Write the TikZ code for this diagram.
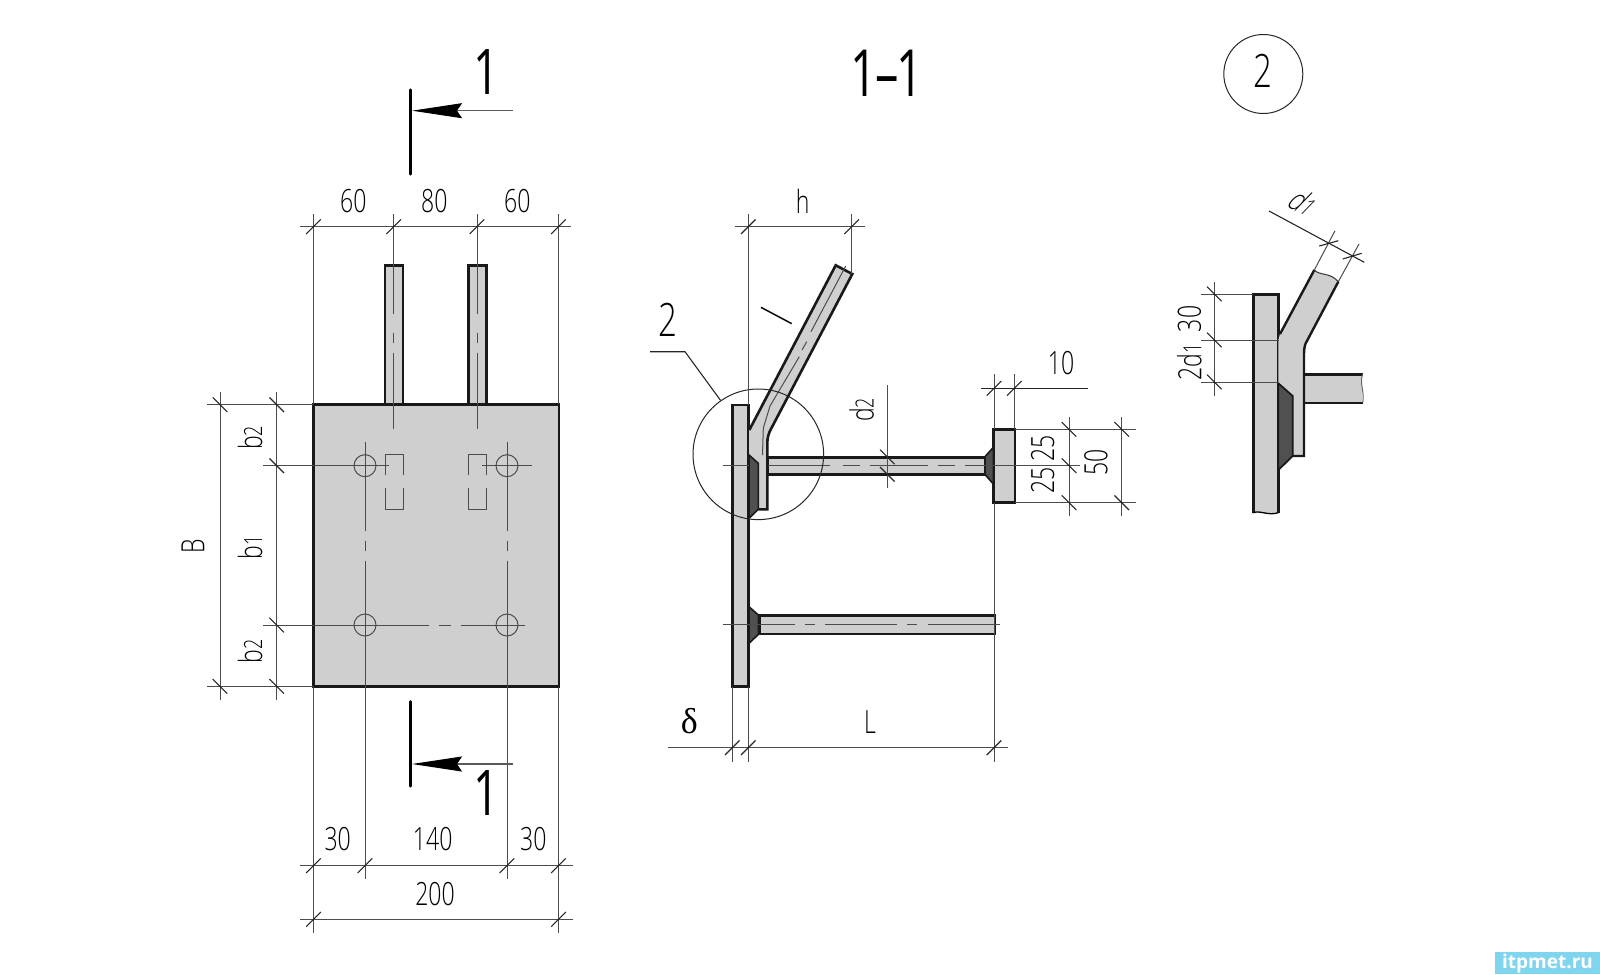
\documentclass[tikz,border=0pt]{standalone}
\usepackage{fontspec}
\setmainfont[FakeStretch=0.72]{Open Sans Light}
\newfontfamily\slantfont[FakeStretch=0.72,FakeSlant=0.25]{Open Sans Light}
\newfontfamily\bigfont[FakeStretch=0.72]{Open Sans}
\newfontfamily\greekfont{Liberation Serif}
\newfontfamily\markfont{Open Sans}
\usepackage{tikz}
\usetikzlibrary{
   arrows.meta,
   calc
}
\definecolor{steelgray}{RGB}{207,207,207}
\definecolor{weldgray}{RGB}{80,80,80}
\definecolor{markblue}{RGB}{127,212,238}
\newcommand{\lowidx}[1]{{\fontsize{25}{25}\selectfont #1}}

\begin{document}
\begin{tikzpicture}[
  x=1pt, y=-1pt,
  every node/.style={inner sep=0pt},
  body/.style={fill=steelgray, draw=black!90, line width=2.6pt, line join=miter},
  weld/.style={fill=weldgray, draw=black!90, line width=1.6pt},
  edge/.style={draw=black!90, line width=2.6pt},
  thinline/.style={draw=black!70, line width=1pt},
  axis/.style={draw=black!70, line width=1pt},
  dimline/.style={draw=black!70, line width=1.2pt},
  slash/.style={draw=black!85, line width=1.1pt},
  dimtext/.style={font=\fontsize{32}{32}\selectfont},
  labeltext/.style={font=\fontsize{46}{46}\selectfont},
  bigtext/.style={font=\bigfont\fontsize{63}{63}\selectfont},
  sectline/.style={draw=black, line width=3.4pt, line cap=round},
  sectarrow/.style={draw=black!65, line width=1.1pt, {Stealth[length=50pt, width=15pt, inset=5pt, black]}-},
]
\useasboundingbox (0,0) rectangle (1600,974);

% anchor bars, plan
\filldraw[body] (385,404.7) -- (385,265.7) -- (403,265.7) -- (403,404.7);
\filldraw[body] (468.7,404.7) -- (468.7,265.7) -- (486.7,265.7) -- (486.7,404.7);

% base plate, plan
\filldraw[body] (313.5,404.7) rectangle (559,686.5);

% holes
\draw[thinline] (365,465.7) circle (11);
\draw[thinline] (507,465.7) circle (11);
\draw[thinline] (365,625) circle (11);
\draw[thinline] (507,625) circle (11);

% hidden bars
\draw[thinline] (385,475) -- (385,454.3) -- (403,454.3) -- (403,475);
\draw[thinline] (385,488) -- (385,509) -- (403,509) -- (403,488);
\draw[thinline] (468.7,475) -- (468.7,454.3) -- (486.7,454.3) -- (486.7,475);
\draw[thinline] (468.7,488) -- (468.7,509) -- (486.7,509) -- (486.7,488);

% axes, plan
\draw[axis] (393.7,214) -- (393.7,314) (393.7,332.7) -- (393.7,343.3) (393.7,352.7) -- (393.7,429);
\draw[axis] (477,214) -- (477,314) (477,332.7) -- (477,343.3) (477,352.7) -- (477,429);
\draw[axis] (365,441.7) -- (365,530.7) (365,540.7) -- (365,551) (365,561) -- (365,879);
\draw[axis] (507,441.7) -- (507,530.7) (507,540.7) -- (507,551) (507,561) -- (507,879);
\draw[axis] (263,465.7) -- (389,465.7) (482,465.7) -- (531.7,465.7);
\draw[axis] (263,625) -- (429.3,625) (439.3,625) -- (450.7,625) (460.7,625) -- (525,625);

% dimensions, plan
\draw[thinline] (313.5,214) -- (313.5,404) (558.5,214) -- (558.5,404);
\draw[thinline] (313.5,687) -- (313.5,933) (558.5,687) -- (558.5,933);
\draw[thinline] (206.7,404.7) -- (313,404.7) (206.7,686.3) -- (313,686.3);
\draw[thinline] (220,391.7) -- (220,700) (276.7,391.7) -- (276.7,700);
\draw[dimline] (300,226.7) -- (571,226.7);
\draw[dimline] (300,865.7) -- (572.7,865.7);
\draw[dimline] (300,919.3) -- (572.7,919.3);
\foreach \px/\py in {313.5/226.7, 393.7/226.7, 477/226.7, 558.5/226.7,
  313.5/865.7, 365/865.7, 507/865.7, 558.5/865.7, 313.5/919.3, 558.5/919.3}
  \draw[slash] (\px-7.3,\py+7.3) -- (\px+7.3,\py-7.3);
\foreach \px/\py in {220/404.7, 276.7/404.7, 276.7/465.7, 276.7/625, 220/686.3, 276.7/686.3}
  \draw[slash] (\px-7.3,\py-7.3) -- (\px+7.3,\py+7.3);

\node[dimtext] (topa) at (353.3,201) {60};
\node[dimtext] (topb) at (434.3,201) {80};
\node[dimtext] (topc) at (517.3,201) {60};
\node[dimtext] (lowa) at (337.7,839.3) {30};
\node[dimtext] (lowb) at (432.7,839.3) {140};
\node[dimtext] (lowc) at (533.3,839.3) {30};
\node[dimtext] (lowd) at (435,894) {200};
\node[dimtext, rotate=90] (sizeb) at (193,546.7) {B};
\node[dimtext, rotate=90] (sizea) at (250,438) {b\lowidx{2}};
\node[dimtext, rotate=90] (sizec) at (250,547) {b\lowidx{1}};
\node[dimtext, rotate=90] (sized) at (250,651) {b\lowidx{2}};

% section marks
\draw[sectline] (410.7,90) -- (410.7,174);
\coordinate (uptip) at (412,110.7);
\coordinate (upend) at (512.7,110.7);
\draw[sectarrow] (uptip) -- (upend);
\node[bigtext] (upnum) at (486.7,72) {1};
\draw[sectline] (410.7,701.7) -- (410.7,786);
\coordinate (lowtip) at (412,764);
\coordinate (lowend) at (512.7,764);
\draw[sectarrow] (lowtip) -- (lowend);
\node[bigtext] (lownum) at (486.7,793) {1};

% section 1-1: plate, bars, welds
\filldraw[body] (732.3,405) rectangle (748.7,686.7);
\filldraw[body] (767.3,457.3) rectangle (985,474.3);
\filldraw[body] (759.3,615.7) rectangle (995,634);
\filldraw[body] (993.7,429.3) rectangle (1015,502.7);
\filldraw[fill=steelgray, draw=none] (835.7,265.3) -- (852.3,274) -- (771.5,428)
  .. controls (768.5,433) and (767.3,438) .. (767.3,443) -- (767.3,509.3) -- (758.3,509.3)
  -- (758.3,463.3) -- (749,455) -- (749,430) -- cycle;
\draw[edge, line join=miter] (749.3,430) -- (835.7,265.3) -- (852.3,274) -- (771.5,428)
  .. controls (768.5,433) and (767.3,438) .. (767.3,443) -- (767.3,509.3) -- (758.3,509.3);
\filldraw[weld] (749,455) -- (758.3,463.3) -- (758.3,509.3) -- (749,518.3) -- cycle;
\filldraw[weld] (749,606.7) -- (758.3,615) -- (758.3,634.5) -- (749,643.3) -- cycle;
\filldraw[weld] (993.3,447.3) -- (985,456.7) -- (985,474.5) -- (993.3,484) -- cycle;

% section 1-1: axes
\draw[axis] (845.7,266) -- (811,331.7) (806.7,341.7) -- (802,350)
  (799.3,356.7) -- (770,406) -- (763.3,428) -- (762.5,455);
\draw[axis] (722.7,465.7) -- (749,465.7) (768,465.7) -- (830,465.7) (843,465.7) -- (860,465.7)
  (870,465.7) -- (928,465.7) (938,465.7) -- (955,465.7) (965,465.7) -- (1080,465.7);
\draw[axis] (722.7,624.7) -- (795,624.7) (805,624.7) -- (815,624.7) (825,624.7) -- (897.3,624.7)
  (907.3,624.7) -- (917.3,624.7) (927.7,624.7) -- (1000,624.7);

% section 1-1: detail circle and leader
\node[circle, draw=black!85, line width=1pt, minimum size=130.6pt] (detcirc) at (758.3,454.3) {};
\coordinate (leadknee) at (685,351.7);
\coordinate (leadend) at (650,351.7);
\draw[draw=black!85, line width=1.1pt] (detcirc.125) -- (leadknee) -- (leadend);
\node[labeltext] (detnum) at (667.7,320) {2};

% section 1-1: dimensions
\draw[thinline] (748.3,214) -- (748.3,405) (851.7,214) -- (851.7,274);
\draw[dimline] (735,226.7) -- (865,226.7);
\draw[thinline] (732.3,687) -- (732.3,761.7) (748.3,687) -- (748.3,761.7);
\draw[thinline] (994,374.3) -- (994,429) (994,503) -- (994,761.7);
\draw[thinline] (1014.3,374.3) -- (1014.3,429);
\draw[dimline] (668.3,747.7) -- (1008.3,747.7);
\draw[draw=black!85, line width=1.2pt] (981,388.3) -- (1087.7,388.3);
\draw[thinline] (887.3,385) -- (887.3,488);
\draw[thinline] (1015,429.3) -- (1136,429.3) (1015,502.7) -- (1136,502.7);
\draw[thinline] (1069,416.7) -- (1069,515.7) (1121.7,416.7) -- (1121.7,515.7);
\foreach \px/\py in {748.3/226.7, 851.7/226.7, 732.3/747.7, 748.3/747.7, 994/747.7, 994/388.3, 1014.3/388.3}
  \draw[slash] (\px-7.3,\py+7.3) -- (\px+7.3,\py-7.3);
\foreach \px/\py in {887.3/457, 887.3/474.3, 1069/429.3, 1069/465.7, 1069/502.7, 1121.7/429.3, 1121.7/502.7}
  \draw[slash] (\px-7.3,\py-7.3) -- (\px+7.3,\py+7.3);

\node[dimtext] (sizeh) at (802.7,201.7) {h};
\node[labeltext, rotate=62] (sizel) at (777,315.5) {l};
\node[dimtext, rotate=90] (sized2) at (861.7,410) {d\lowidx{2}};
\node[dimtext] (sizet) at (1061,362.7) {10};
\node[dimtext, rotate=90] (sizeua) at (1042.7,448.7) {25};
\node[dimtext, rotate=90] (sizeub) at (1042.7,480.3) {25};
\node[dimtext, rotate=90] (sizefi) at (1096,462.7) {50};
\node[dimtext] (sizeL) at (870,721.7) {L};
\node[font=\greekfont\fontsize{36}{36}\selectfont] (sizedel) at (689.3,721) {δ};

% titles
\node[font=\bigfont\fontsize{65}{65}\selectfont] (title) at (886.7,73.3) {1\kern-2pt–\kern-2pt1};
\node[circle, draw=black!85, line width=1pt, minimum size=79pt] (balloon) at (1263.3,74) {};
\node[labeltext] (balnum) at (1263.3,70.7) {2};

% detail 2
\fill[steelgray] (1253.3,294.3) -- (1278.3,294.3) -- (1278.3,512.7) -- (1253.3,512.7) -- cycle;
\draw[edge, line width=2.4pt] (1253.3,512.7) -- (1253.3,294.3) -- (1278.3,294.3) -- (1278.3,512.7);
\draw[line width=1.3pt] (1253.3,512.7) .. controls (1260,510) and (1268,516) .. (1278.3,512.7);
\fill[steelgray] (1314.3,270) .. controls (1320,276) and (1330,272) .. (1338.3,281.7)
  -- (1305.7,343.3) .. controls (1304.5,346) and (1304,350) .. (1304,353.3) -- (1304,456)
  -- (1292.7,456) -- (1292.7,396) -- (1278.3,383.3) -- (1278.3,340) -- (1280,334) -- cycle;
\fill[steelgray] (1304,375) rectangle (1362,403);
\draw[edge, line width=2.4pt] (1280,334) -- (1314.3,270);
\draw[draw=black!80, line width=1pt] (1314.3,270) .. controls (1320,276) and (1330,272) .. (1338.3,281.7);
\draw[edge, line width=2.4pt] (1338.3,281.7) -- (1305.7,343.3)
  .. controls (1304.5,346) and (1304,350) .. (1304,353.3) -- (1304,456) -- (1292.7,456);
\draw[edge, line width=2.4pt] (1304,374.3) -- (1362.7,374.3) (1304,402.7) -- (1362.7,402.7);
\draw[draw=black!60, line width=1pt] (1362.7,374.3) .. controls (1359,383) and (1365,392) .. (1362.7,402.7);
\filldraw[weld, line width=1.8pt] (1278.3,383.3) -- (1292.7,396) -- (1292.7,456) -- (1278.3,470) -- cycle;

% detail 2: dimensions
\draw[thinline] (1201,294) -- (1253,294) (1201,340) -- (1279,340) (1201,382) -- (1279,382);
\draw[thinline] (1214.3,281.7) -- (1214.3,395.7);
\foreach \px/\py in {1214.3/294, 1214.3/340, 1214.3/382}
  \draw[slash] (\px-7.3,\py-7.3) -- (\px+7.3,\py+7.3);
\coordinate (cuta) at (1314.3,270);
\coordinate (cutb) at (1338.3,281.7);
\coordinate (exta) at (1335,230.7);
\coordinate (extb) at (1359,244);
\draw[thinline] (cuta) -- (exta) (cutb) -- (extb);
\draw[draw=black!85, line width=1.1pt] (1269,211) -- (1364.3,262.3);
\draw[slash] (1319.3,246) -- (1338.3,240.7);
\draw[slash] (1342.7,259) -- (1361.7,253.3);
\node[dimtext, rotate=90] (sizeth) at (1189.3,319) {30};
\node[dimtext, rotate=90] (sizetd) at (1189.3,361.7) {2d\lowidx{1}};
\node[font=\slantfont\fontsize{32}{32}\selectfont, rotate=-30] (sizedo) at (1301.7,200.7) {d\lowidx{1}};

% site mark
\node[fill=markblue, minimum width=105pt, minimum height=21.7pt, text=white,
  font=\markfont\bfseries\fontsize{19}{19}\selectfont] (sitemark) at (1547.5,963.15) {itpmet.ru};

\end{tikzpicture}
\end{document}
